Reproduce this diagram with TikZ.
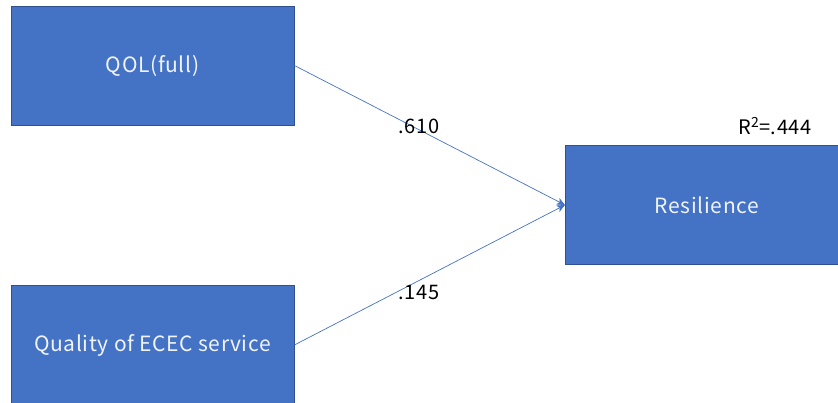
\documentclass[tikz,border=0pt]{standalone}
\usepackage{fontspec}
\setmainfont[LetterSpace=3]{Noto Sans CJK JP}
\usetikzlibrary{arrows.meta}
\definecolor{boxfill}{HTML}{4472C4}
\definecolor{boxline}{HTML}{2F528F}
\definecolor{linkcol}{HTML}{4472C4}
\begin{document}
\begin{tikzpicture}[x=1pt,y=1pt,
  varbox/.style={draw=boxline,line width=0.8pt,fill=boxfill,text=white!92!boxfill,
    minimum width=283pt,minimum height=119pt,inner sep=0pt,font=\fontsize{21}{24}\selectfont},
  coef/.style={text=black,inner sep=0pt,font=\fontsize{20}{22}\selectfont},
  link/.style={draw=linkcol,line width=0.7pt,-{Stealth[length=8pt,width=7pt,inset=2pt]}}]
\useasboundingbox (0,0) rectangle (838,403);
\begin{scope}
\clip (0,0) rectangle (838,403);
\node[varbox] (qol) at (152.5,337.5) {QOL(full)};
\node[varbox,minimum height=120pt] (ecec) at (152.5,58) {Quality of ECEC service};
\node[varbox,minimum width=290pt] (res) at (710,198) {\hspace*{-6pt}Resilience};
\end{scope}
\coordinate (tip) at (565,198);
\draw[link] (qol.east) -- (tip);
\draw[link] (ecec.east) -- (tip);
\node[coef] (c1) at (419,277) {.610};
\node[coef] (c2) at (419,110) {.145};
\node[coef] (r2) at (775,277) {R\textsuperscript{2}=.444};
\end{tikzpicture}
\end{document}
